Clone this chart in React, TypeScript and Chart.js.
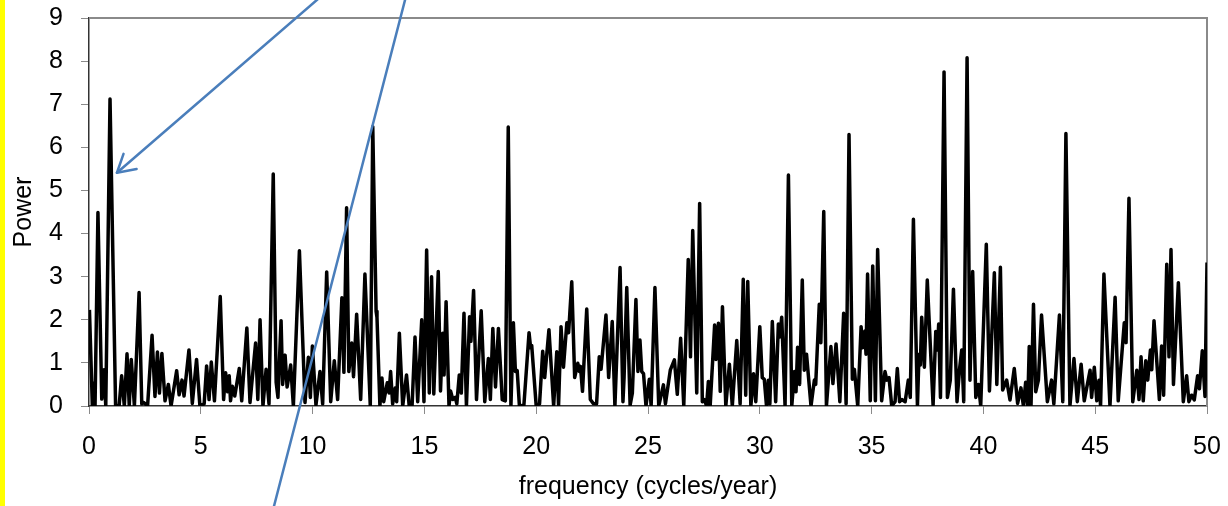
import { useEffect, useRef } from 'react';
import { Chart, registerables } from 'chart.js';

Chart.register(...registerables);

// Periodogram, read as successive peaks and troughs (frequency in cycles/year, power).
const FREQ_0_10 = [
  0.02, 0.15, 0.21, 0.27, 0.40, 0.57, 0.67, 0.75, 0.94, 1.19,
  1.35, 1.46, 1.58, 1.70, 1.80, 1.89, 2.03, 2.24, 2.36, 2.45,
  2.62, 2.82, 2.95, 3.06, 3.15, 3.26, 3.40, 3.55, 3.67, 3.92,
  4.03, 4.16, 4.25, 4.47, 4.62, 4.81, 4.96, 5.15, 5.26, 5.37,
  5.47, 5.61, 5.87, 6.02, 6.11, 6.20, 6.27, 6.33, 6.41, 6.52,
  6.72, 6.83, 7.06, 7.20, 7.45, 7.55, 7.65, 7.78, 7.92, 8.05,
  8.24, 8.37, 8.45, 8.59, 8.66, 8.77, 8.86, 9.02, 9.14, 9.41,
  9.66, 9.81, 9.90, 9.99,
];
const POWER_0_10 = [
  2.23, 0, 0.53, 0, 4.49, 0.16, 0.84, 0, 7.12, 0,
  0.02, 0.70, 0, 1.21, 0, 1.08, 0, 2.63, 0.05, 0.08,
  0, 1.64, 0.22, 1.25, 0.30, 1.22, 0.12, 0.50, 0, 0.82,
  0.26, 0.60, 0.23, 1.30, 0.06, 1.08, 0, 0.05, 0.93, 0.15,
  1.02, 0.12, 2.54, 0.15, 0.77, 0.33, 0.70, 0.12, 0.46, 0.23,
  0.87, 0.12, 1.81, 0.08, 1.46, 0.15, 2.00, 0, 0.85, 0.05,
  5.38, 0.55, 0.20, 1.98, 0.50, 1.18, 0.44, 0.95, 0, 3.60,
  0.08, 1.13, 0.20, 1.39,
];

const FREQ_10_20 = [
  10.15, 10.33, 10.45, 10.63, 10.81, 10.97, 11.12, 11.31, 11.40, 11.52,
  11.62, 11.75, 11.83, 11.97, 12.15, 12.34, 12.58, 12.69, 12.84, 12.88,
  13.01, 13.10, 13.18, 13.34, 13.42, 13.49, 13.58, 13.70, 13.76, 13.88,
  14.03, 14.20, 14.32, 14.45, 14.58, 14.70, 14.88, 14.98, 15.10, 15.22,
  15.32, 15.42, 15.62, 15.72, 15.82, 15.88, 15.97, 16.10, 16.17, 16.27,
  16.38, 16.45, 16.56, 16.65, 16.77, 16.88, 17.02, 17.08, 17.20, 17.33,
  17.54, 17.70, 17.86, 17.95, 18.06, 18.18, 18.31, 18.48, 18.62, 18.75,
  18.87, 18.98, 19.07, 19.15, 19.25, 19.45, 19.68, 19.75, 19.80,
];
const POWER_10_20 = [
  0.02, 0.80, 0.05, 3.11, 0.10, 1.05, 0.15, 2.51, 0.78, 4.60,
  0.80, 1.46, 0.68, 2.13, 0.15, 3.06, 0, 6.48, 2.20, 2.05,
  0, 0.65, 0.10, 0.54, 0.30, 0.80, 0.05, 0.42, 0.10, 1.69,
  0, 0.72, 0, 0.02, 1.60, 0.10, 2.00, 0.10, 3.62, 0.30,
  3.00, 0.28, 3.12, 0.35, 1.69, 0.72, 2.42, 0, 0.35, 0.15,
  0.20, 0.05, 0.72, 0.30, 2.15, 0, 2.07, 1.50, 2.68, 0.15,
  2.21, 0.10, 1.10, 0.15, 1.80, 0.44, 1.80, 0.15, 0.12, 6.47,
  0, 1.93, 0.80, 0.82, 0, 0.02, 1.70, 1.35, 1.40,
];

const FREQ_20_30 = [
  20.00, 20.15, 20.29, 20.38, 20.57, 20.78, 20.92, 21.00, 21.11, 21.22,
  21.37, 21.45, 21.59, 21.72, 21.86, 21.93, 21.98, 22.07, 22.26, 22.42,
  22.55, 22.70, 22.82, 22.90, 23.12, 23.24, 23.40, 23.52, 23.75, 23.88,
  23.93, 24.05, 24.20, 24.30, 24.46, 24.55, 24.64, 24.72, 24.80, 24.91,
  25.06, 25.14, 25.31, 25.48, 25.69, 25.78, 26.00, 26.18, 26.31, 26.46,
  26.60, 26.80, 26.90, 27.00, 27.18, 27.31, 27.43, 27.52, 27.62, 27.70,
  27.78, 27.98, 28.04, 28.15, 28.23, 28.33, 28.48, 28.64, 28.77, 28.97,
  29.12, 29.26, 29.37, 29.46, 29.60, 29.72, 29.82,
];
const POWER_20_30 = [
  0, 0.05, 1.27, 0.66, 1.77, 0, 1.26, 0, 1.84, 0.90,
  1.93, 1.70, 2.88, 0.66, 0.99, 0.80, 0.92, 0.34, 2.25, 0.15,
  0.06, 0.05, 1.14, 0.85, 2.11, 0.66, 1.96, 0, 3.21, 0.10,
  0.66, 2.75, 0.02, 0.30, 2.47, 0.80, 1.53, 0.80, 0.75, 0,
  0.62, 0, 2.75, 0, 0.49, 0.05, 0.84, 1.07, 0.27, 1.57,
  0, 3.40, 1.14, 4.07, 0.30, 4.70, 0.10, 0.15, 0, 0.57,
  0, 1.88, 1.08, 1.92, 0.34, 2.30, 0, 0.97, 0, 1.52,
  0.05, 2.94, 0.25, 2.89, 0, 0.75, 0.10,
];

const FREQ_30_40 = [
  30.00, 30.11, 30.20, 30.30, 30.38, 30.45, 30.56, 30.71, 30.83, 30.89,
  30.98, 31.13, 31.28, 31.43, 31.55, 31.62, 31.69, 31.78, 31.90, 31.99,
  32.09, 32.29, 32.44, 32.50, 32.66, 32.73, 32.86, 32.98, 33.18, 33.27,
  33.41, 33.58, 33.75, 33.86, 33.99, 34.14, 34.23, 34.38, 34.53, 34.60,
  34.70, 34.75, 34.82, 34.94, 35.05, 35.17, 35.27, 35.45, 35.60, 35.68,
  35.78, 35.90, 36.05, 36.15, 36.25, 36.35, 36.50, 36.64, 36.73, 36.87,
  37.05, 37.12, 37.18, 37.24, 37.36, 37.49, 37.75, 37.87, 37.94, 38.00,
  38.08, 38.24, 38.39, 38.52, 38.66, 38.82, 38.93, 39.03, 39.12, 39.27,
  39.40, 39.52, 39.66, 39.78, 39.88,
];
const POWER_30_40 = [
  1.84, 0.66, 0.62, 0, 0.60, 0.05, 1.96, 0.10, 1.90, 1.60,
  2.06, 0, 5.36, 0, 0.80, 0.33, 1.36, 0.50, 2.92, 0.83,
  1.20, 0, 0.60, 0.50, 2.36, 1.47, 4.51, 0, 1.38, 0.52,
  1.44, 0.10, 2.15, 0.05, 6.30, 0.62, 0.85, 0, 1.84, 1.35,
  1.74, 1.20, 3.06, 0.12, 3.25, 0.12, 3.63, 0.12, 0.80, 0.60,
  0.66, 0, 0.10, 0.87, 0.10, 0.15, 0.10, 0.60, 0.20, 4.33,
  0, 1.20, 0.95, 2.06, 0.90, 2.92, 0.02, 1.73, 1.30, 1.90,
  0.20, 7.75, 0.20, 0.60, 2.71, 0.10, 0.84, 1.30, 0.10, 8.08,
  0.60, 3.12, 0.20, 0.50, 0,
];

const FREQ_40_50 = [
  40.13, 40.27, 40.49, 40.60, 40.76, 40.86, 41.04, 41.19, 41.38, 41.53,
  41.68, 41.79, 41.89, 41.98, 42.05, 42.13, 42.24, 42.34, 42.46, 42.60,
  42.86, 43.05, 43.15, 43.40, 43.55, 43.69, 43.87, 44.05, 44.20, 44.37,
  44.51, 44.77, 44.84, 44.96, 45.07, 45.17, 45.24, 45.39, 45.66, 45.89,
  46.03, 46.30, 46.38, 46.51, 46.68, 46.86, 46.96, 47.05, 47.15, 47.26,
  47.35, 47.47, 47.53, 47.63, 47.87, 47.97, 48.06, 48.20, 48.30, 48.39,
  48.50, 48.72, 48.94, 49.09, 49.19, 49.31, 49.43, 49.58, 49.66, 49.79,
  49.91, 50.00,
];
const POWER_40_50 = [
  3.75, 0.35, 3.09, 0.50, 3.22, 0.37, 0.60, 0.14, 0.87, 0.06,
  0.42, 0, 0.55, 0, 1.38, 0, 2.36, 0.33, 0.60, 2.11,
  0.10, 0.60, 0.05, 2.11, 0.10, 6.32, 0, 1.10, 0.10, 0.97,
  0.12, 0.83, 0.20, 0.90, 0.12, 0.60, 0, 3.06, 0, 2.52,
  0.12, 1.93, 1.47, 4.82, 0.10, 0.83, 0.15, 1.14, 0.12, 1.05,
  0.60, 1.30, 0.84, 1.98, 0.15, 1.39, 0.25, 3.29, 1.14, 3.63,
  0.50, 2.86, 0.10, 0.70, 0.10, 0.25, 0.14, 0.70, 0.40, 1.28,
  0.22, 3.33,
];

const X_TICKS = [0, 5, 10, 15, 20, 25, 30, 35, 40, 45, 50];
const Y_TICKS = [0, 1, 2, 3, 4, 5, 6, 7, 8, 9];
const X_TITLE = 'frequency (cycles/year)';
const Y_TITLE = 'Power';

// Callout lines, given in axis units (they run past the plot edges).
const ARROW_FROM = { x: 10.71, y: 9.65 };
const ARROW_TO = { x: 1.25, y: 5.41 };
const SLASH_FROM = { x: 14.25, y: 9.65 };
const SLASH_TO = { x: 8.16, y: -2.55 };

const FREQ = [...FREQ_0_10, ...FREQ_10_20, ...FREQ_20_30, ...FREQ_30_40, ...FREQ_40_50];
const POWER = [...POWER_0_10, ...POWER_10_20, ...POWER_20_30, ...POWER_30_40, ...POWER_40_50];

const FONT = "'Liberation Sans', Arial, sans-serif";
const CALLOUT = '#4A7EBB';

const overlayPlugin = {
  id: 'overlay',
  beforeDraw(chart: any) {
    const { ctx, width, height } = chart;
    ctx.save();
    ctx.fillStyle = '#ffffff';
    ctx.fillRect(0, 0, width, height);
    ctx.fillStyle = '#ffff00';
    ctx.fillRect(0, 0, 5, height);
    ctx.restore();
  },
  beforeDatasetsDraw(chart: any) {
    const { ctx, chartArea } = chart;
    const { left, right, top, bottom } = chartArea;
    ctx.save();
    ctx.strokeStyle = '#8a8a8a';
    ctx.lineWidth = 2;
    ctx.beginPath();
    ctx.moveTo(left, top);
    ctx.lineTo(right, top);
    ctx.lineTo(right, bottom);
    ctx.stroke();
    ctx.restore();
  },
  afterDraw(chart: any) {
    const { ctx } = chart;
    const xs = chart.scales.x;
    const ys = chart.scales.y;
    const px = (p: { x: number; y: number }) => [xs.getPixelForValue(p.x), ys.getPixelForValue(p.y)];
    ctx.save();
    ctx.strokeStyle = CALLOUT;
    ctx.lineWidth = 2.5;
    ctx.lineCap = 'round';
    ctx.lineJoin = 'round';

    const [ax0, ay0] = px(ARROW_FROM);
    const [ax1, ay1] = px(ARROW_TO);
    ctx.beginPath();
    ctx.moveTo(ax0, ay0);
    ctx.lineTo(ax1, ay1);
    ctx.stroke();
    // open arrow head at the tip
    const ang = Math.atan2(ay0 - ay1, ax0 - ax1);
    const len = 20;
    const spread = Math.PI / 6;
    ctx.beginPath();
    ctx.moveTo(ax1 + len * Math.cos(ang - spread), ay1 + len * Math.sin(ang - spread));
    ctx.lineTo(ax1, ay1);
    ctx.lineTo(ax1 + len * Math.cos(ang + spread), ay1 + len * Math.sin(ang + spread));
    ctx.stroke();

    const [sx0, sy0] = px(SLASH_FROM);
    const [sx1, sy1] = px(SLASH_TO);
    ctx.beginPath();
    ctx.moveTo(sx0, sy0);
    ctx.lineTo(sx1, sy1);
    ctx.stroke();
    ctx.restore();
  },
};

export default function App() {
  const canvasRef = useRef<HTMLCanvasElement>(null);

  useEffect(() => {
    const canvas = canvasRef.current;
    if (!canvas) return;
    const points = FREQ.map((f, i) => ({ x: f, y: POWER[i] }));
    const chart = new Chart(canvas, {
      type: 'scatter',
      data: {
        datasets: [
          {
            data: points,
            showLine: true,
            borderColor: '#000000',
            backgroundColor: '#000000',
            borderWidth: 3.5,
            borderJoinStyle: 'round',
            pointRadius: 0,
            pointHoverRadius: 0,
            tension: 0,
          },
        ],
      },
      options: {
        animation: false,
        responsive: false,
        maintainAspectRatio: false,
        devicePixelRatio: 1,
        events: [],
        layout: { padding: { left: 0, top: 18, right: 21, bottom: 0 } },
        plugins: { legend: { display: false }, tooltip: { enabled: false } },
        scales: {
          x: {
            type: 'linear',
            min: 0,
            max: 50,
            afterBuildTicks: (s: any) => {
              s.ticks = X_TICKS.map((v) => ({ value: v }));
            },
            afterFit: (s: any) => {
              s.height = 100;
              s.paddingLeft = 0;
              s.paddingRight = 0;
            },
            ticks: {
              color: '#000000',
              font: { family: FONT, size: 25 },
              padding: 18,
              maxRotation: 0,
              autoSkip: false,
            },
            grid: {
              drawOnChartArea: false,
              drawTicks: true,
              tickLength: 8,
              color: '#8a8a8a',
              lineWidth: 1,
            },
            border: { display: true, color: '#333333', width: 1.5 },
            title: {
              display: true,
              text: X_TITLE,
              color: '#000000',
              font: { family: FONT, size: 25 },
              padding: { top: 0, bottom: 4 },
            },
          },
          y: {
            type: 'linear',
            min: 0,
            max: 9,
            afterBuildTicks: (s: any) => {
              s.ticks = Y_TICKS.map((v) => ({ value: v }));
            },
            afterFit: (s: any) => {
              s.width = 89;
              s.paddingTop = 0;
              s.paddingBottom = 0;
            },
            ticks: {
              color: '#000000',
              font: { family: FONT, size: 25 },
              padding: 18,
              autoSkip: false,
            },
            grid: {
              drawOnChartArea: false,
              drawTicks: true,
              tickLength: 8,
              color: '#8a8a8a',
              lineWidth: 1,
            },
            border: { display: true, color: '#333333', width: 1.5 },
            title: {
              display: true,
              text: Y_TITLE,
              color: '#000000',
              font: { family: FONT, size: 25 },
              padding: { top: 9, bottom: 0 },
            },
          },
        },
      },
      plugins: [overlayPlugin],
    } as any);
    return () => chart.destroy();
  }, []);

  return (
    <div style={{ position: 'fixed', left: 0, top: 0, width: 1228, height: 506, background: '#ffffff' }}>
      <canvas ref={canvasRef} width={1228} height={506} style={{ display: 'block', width: 1228, height: 506 }} />
    </div>
  );
}
